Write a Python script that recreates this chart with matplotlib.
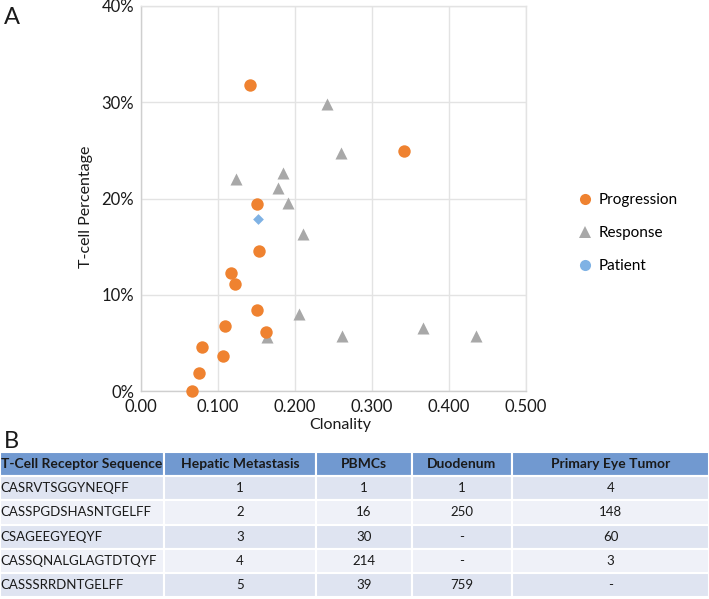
import matplotlib
matplotlib.use("Agg")
import matplotlib.pyplot as plt
from matplotlib.lines import Line2D
from matplotlib.ticker import FixedLocator, FuncFormatter

plt.rcParams['font.family'] = ['Lato', 'DejaVu Sans']

# ---------------- data ----------------
prog_x = [0.142, 0.342, 0.151, 0.153, 0.117, 0.122, 0.151, 0.109, 0.162, 0.079, 0.107, 0.075, 0.066]
prog_y = [31.8, 24.9, 19.4, 14.5, 12.3, 11.1, 8.4, 6.8, 6.1, 4.6, 3.6, 1.9, 0.0]

resp_x = [0.241, 0.260, 0.123, 0.184, 0.178, 0.191, 0.211, 0.205, 0.164, 0.261, 0.366, 0.435]
resp_y = [29.8, 24.7, 22.0, 22.6, 21.1, 19.5, 16.3, 8.0, 5.6, 5.7, 6.5, 5.7]

patient_x = [0.152]
patient_y = [17.9]

x_ticks = [0.0, 0.1, 0.2, 0.3, 0.4, 0.5]
x_tick_labels = ["0.00", "0.100", "0.200", "0.300", "0.400", "0.500"]
y_ticks = [0, 10, 20, 30, 40]

legend_labels = ["Progression", "Response", "Patient"]

table_header = ["T-Cell Receptor Sequence", "Hepatic Metastasis", "PBMCs", "Duodenum", "Primary Eye Tumor"]
tcr_seq = ["CASRVTSGGYNEQFF", "CASSPGDSHASNTGELFF", "CSAGEEGYEQYF", "CASSQNALGLAGTDTQYF", "CASSSRRDNTGELFF"]
hepatic = ["1", "2", "3", "4", "5"]
pbmcs = ["1", "16", "30", "214", "39"]
duodenum = ["1", "250", "-", "-", "759"]
eye_tumor = ["4", "148", "60", "3", "-"]

# ---------------- style ----------------
C_ORANGE = "#EF8230"
C_GRAY = "#A8A8A8"
C_BLUE = "#7FB2E4"
C_GRID = "#E3E3E3"
C_TEXT = "#1A1A1A"

W, H = 709, 599
fig = plt.figure(figsize=(W / 100, H / 100), dpi=100)

# axes: left 141, right 526, top 6, bottom 391 (pixels)
ax = fig.add_axes([141 / W, 1 - 391 / H, (526 - 141) / W, (391 - 6) / H])
ax.set_xlim(0, 0.5)
ax.set_ylim(0, 40)
ax.xaxis.set_major_locator(FixedLocator(x_ticks))
ax.set_xticklabels(x_tick_labels)
ax.yaxis.set_major_locator(FixedLocator(y_ticks))
ax.yaxis.set_major_formatter(FuncFormatter(lambda v, p: f"{v:.0f}%"))
ax.grid(True, color=C_GRID, linewidth=1.0)
ax.set_axisbelow(True)
for s in ax.spines.values():
    s.set_color(C_GRID)
    s.set_linewidth(1.0)
ax.spines['left'].set_color("#CFCFCF")
ax.spines['bottom'].set_color("#CFCFCF")
ax.tick_params(length=0, labelsize=12, colors=C_TEXT)
ax.tick_params(axis="x", pad=6)
ax.tick_params(axis="y", pad=5)

ax.scatter(resp_x, resp_y, marker="^", s=75, color=C_GRAY, linewidths=0, zorder=3, clip_on=False)
ax.scatter(prog_x, prog_y, marker="o", s=80, color=C_ORANGE, linewidths=0, zorder=4, clip_on=False)
ax.scatter(patient_x, patient_y, marker="D", s=30, color=C_BLUE, linewidths=0, zorder=5, clip_on=False)

ax.set_xlabel("Clonality", fontsize=11.5, color=C_TEXT)
ax.xaxis.set_label_coords(0.517, -0.07)
ax.set_ylabel("T-cell Percentage", fontsize=11.5, color=C_TEXT)
ax.yaxis.set_label_coords(-0.125, 0.478)

handles = [
    Line2D([], [], marker="o", linestyle="none", markersize=8, color=C_ORANGE, markeredgewidth=0),
    Line2D([], [], marker="^", linestyle="none", markersize=8, color=C_GRAY, markeredgewidth=0),
    Line2D([], [], marker="o", linestyle="none", markersize=8, color=C_BLUE, markeredgewidth=0),
]
fig.legend(handles, legend_labels, loc="upper left", bbox_to_anchor=(577 / W, 1 - 193 / H),
           frameon=False, fontsize=11, handlelength=1.0, handletextpad=0.4,
           labelspacing=1.25, borderaxespad=0, borderpad=0)

fig.text(4 / W, 1 - 18 / H, "A", fontsize=17, color=C_TEXT, va="center", ha="left")
fig.text(4 / W, 1 - 441 / H, "B", fontsize=17, color=C_TEXT, va="center", ha="left")

# ---------------- table ----------------
tax = fig.add_axes([0, 0, 1, 1])
tax.set_axis_off()
cell_text = [list(r) for r in zip(tcr_seq, hepatic, pbmcs, duodenum, eye_tumor)]
col_px = [164, 152, 96, 100, 197]
col_w = [c / W for c in col_px]
row_colors = []
for i in range(len(cell_text)):
    c = "#DFE4F1" if i % 2 == 0 else "#EFF1F8"
    row_colors.append([c] * len(table_header))
tbl = tax.table(cellText=cell_text, colLabels=table_header, colWidths=col_w,
                cellColours=row_colors, colColours=["#7199D0"] * len(table_header),
                bbox=[0, 1 - 597 / H, 1, (597 - 452) / H], cellLoc="center")
tbl.auto_set_font_size(False)
for (r, c), cell in tbl.get_celld().items():
    cell.set_edgecolor("white")
    cell.set_linewidth(1.5)
    txt = cell.get_text()
    txt.set_color(C_TEXT)
    if r == 0:
        txt.set_fontsize(10)
        txt.set_fontweight("bold")
    else:
        txt.set_fontsize(9.5)
    if c == 0:
        cell.PAD = 0.005
        txt.set_ha("left")
        cell._loc = "left"

fig.savefig("out.png", dpi=100)
